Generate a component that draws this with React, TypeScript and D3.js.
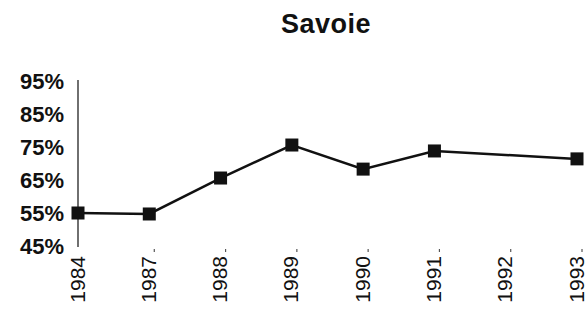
import React, { useEffect, useRef } from "react";
import * as d3 from "d3";

const years = ["1984", "1987", "1988", "1989", "1990", "1991", "1992", "1993"];
const values: (number | null)[] = [55, 54.7, 65.6, 75.6, 68.3, 73.8, null, 71.4];
const yTicks = [45, 55, 65, 75, 85, 95];

const App = () => {
  const ref = useRef<SVGSVGElement | null>(null);

  useEffect(() => {
    if (!ref.current) return;
    const svg = d3.select(ref.current);
    svg.selectAll("*").remove();

    const width = 587;
    const height = 311;
    const font = "Arial, 'Liberation Sans', sans-serif";

    svg.attr("width", width).attr("height", height).style("display", "block");

    const x = d3.scalePoint<string>().domain(years).range([78, 577]);
    const y = d3.scaleLinear().domain([45, 95]).range([246, 81]);

    // title
    svg
      .append("text")
      .attr("x", 326)
      .attr("y", 33)
      .attr("text-anchor", "middle")
      .style("font-family", font)
      .style("font-weight", "bold")
      .style("font-size", "27px")
      .style("letter-spacing", "0.5px")
      .attr("fill", "#111")
      .text("Savoie");

    // y axis
    svg
      .append("line")
      .attr("x1", 78)
      .attr("x2", 78)
      .attr("y1", y(95) - 1)
      .attr("y2", y(45) + 1)
      .attr("stroke", "#222")
      .attr("stroke-width", 1.3);

    svg
      .append("g")
      .selectAll("text")
      .data(yTicks)
      .enter()
      .append("text")
      .attr("x", 64)
      .attr("y", (d) => y(d))
      .attr("dy", "0.36em")
      .attr("text-anchor", "end")
      .style("font-family", font)
      .style("font-weight", "bold")
      .style("font-size", "22px")
      .attr("fill", "#111")
      .text((d) => d + "%");

    // x labels
    svg
      .append("g")
      .selectAll("text")
      .data(years)
      .enter()
      .append("text")
      .attr("transform", (d) => `translate(${x(d)! - 1},256) rotate(-90)`)
      .attr("dy", "0.36em")
      .attr("text-anchor", "end")
      .style("font-family", font)
      .style("font-size", "21px")
      .attr("fill", "#111")
      .text((d) => d);

    // small tick marks
    svg
      .append("g")
      .selectAll("line")
      .data(years.slice(1))
      .enter()
      .append("line")
      .attr("x1", (d) => x(d)! + 5)
      .attr("x2", (d) => x(d)! + 5)
      .attr("y1", 249)
      .attr("y2", 252)
      .attr("stroke", "#555")
      .attr("stroke-width", 1.2);

    const pts = years
      .map((d, i) => ({ year: d, v: values[i] }))
      .filter((d) => d.v !== null) as { year: string; v: number }[];

    const line = d3
      .line<{ year: string; v: number }>()
      .x((d) => x(d.year)!)
      .y((d) => y(d.v));

    svg
      .append("path")
      .datum(pts)
      .attr("fill", "none")
      .attr("stroke", "#111")
      .attr("stroke-width", 2.5)
      .attr("d", line);

    const s = 13;
    svg
      .append("g")
      .selectAll("rect")
      .data(pts)
      .enter()
      .append("rect")
      .attr("x", (d) => x(d.year)! - s / 2)
      .attr("y", (d) => y(d.v) - s / 2)
      .attr("width", s)
      .attr("height", s)
      .attr("fill", "#111");
  }, []);

  return (
    <div style={{ position: "absolute", left: 0, top: 0 }}>
      <svg ref={ref} />
    </div>
  );
};

export default App;
